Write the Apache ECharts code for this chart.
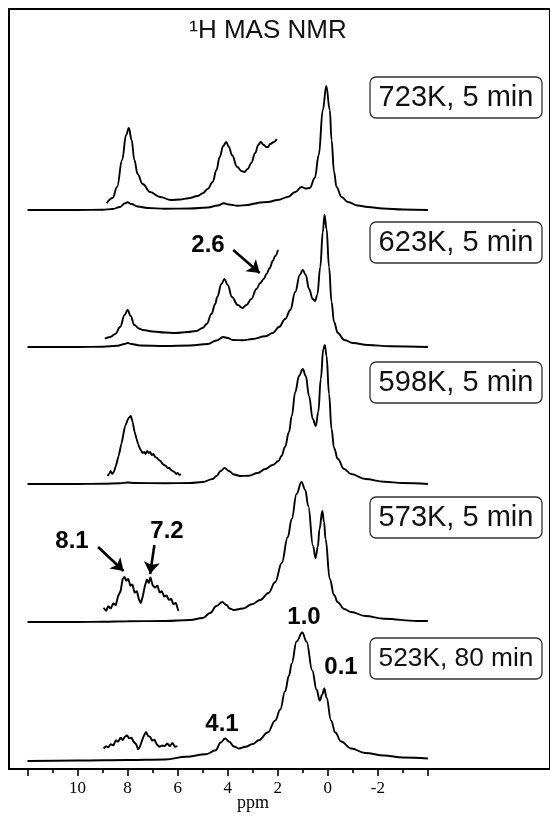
<!DOCTYPE html>
<html>
<head>
<meta charset="utf-8">
<script src="https://cdn.jsdelivr.net/npm/echarts@6/dist/echarts.min.js"></script>
<style>
  html, body { margin: 0; padding: 0; background: #fff; }
  #nmr-chart { width: 550px; height: 820px; }
</style>
</head>
<body>
<div id="nmr-chart"></div>
<script>
// tick values on the ppm axis
const majorTicks = [12, 10, 8, 6, 4, 2, 0, -2, -4];
const tickLabels = [10, 8, 6, 4, 2, 0, -2];
const minorTicks = [11, 9, 7, 5, 3, 1, -1, -3];

const sampleLabels = ['723K, 5 min', '623K, 5 min', '598K, 5 min', '573K, 5 min', '523K, 80 min'];

// [ppm, intensity]
const spec723 = [[12,0],[10,0],[9,0.3],[8.6,1],[8.3,3],[8.12,6.5],[8.0,7.7],[7.85,6],[7.6,3.5],[7.2,2],[6.5,1.3],[5.5,1.5],[4.8,2.5],[4.4,4.5],[4.15,6.7],[3.95,5.5],[3.6,4.3],[3.2,5],[2.9,6.5],[2.72,7.5],[2.4,8],[2.0,10],[1.6,13],[1.3,18],[1.05,23],[0.88,21.5],[0.72,22],[0.52,32],[0.36,55],[0.2,100],[0.06,124],[-0.08,100],[-0.15,70],[-0.25,38],[-0.35,23],[-0.55,13],[-0.8,8],[-1.2,4.5],[-1.6,3],[-2.2,1.5],[-3,0.5],[-4,0]];
const inset723 = [[8.84,6.7],[8.6,12],[8.42,23],[8.22,50],[8.06,75],[7.95,82],[7.84,70],[7.73,50],[7.6,36],[7.4,26],[7.1,18],[6.7,13],[6.27,10],[5.9,10.5],[5.57,11.7],[5.2,14],[5.0,16.7],[4.8,21],[4.6,28],[4.45,40],[4.32,53],[4.18,64],[4.06,68],[3.95,63],[3.83,55],[3.62,43],[3.45,39],[3.34,38],[3.2,41],[3.06,47],[2.9,57],[2.78,65],[2.68,68],[2.56,65],[2.46,63],[2.39,63],[2.3,66],[2.15,68],[2.04,71]];

const spec623 = [[12,0],[10,0],[9,0.3],[8.4,1.2],[8.12,3],[8.0,4],[7.85,3],[7.5,1.5],[6.5,1],[5.5,1.5],[4.8,3],[4.45,6.5],[4.18,10],[4.0,9],[3.8,7],[3.4,6.7],[3.0,8],[2.5,10.7],[2.2,14],[1.95,20],[1.7,28],[1.5,37],[1.3,55],[1.12,72],[1.0,77],[0.88,72],[0.75,58],[0.6,48],[0.51,46],[0.42,52],[0.3,80],[0.2,115],[0.13,132],[0.05,118],[-0.05,80],[-0.15,45],[-0.25,25],[-0.4,14],[-0.66,7],[-1.0,4],[-1.6,2],[-2.5,0.7],[-4,0]];
const inset623 = [[8.91,8.3],[8.7,10],[8.49,13],[8.3,20],[8.12,32],[8.0,37],[7.88,31],[7.73,22],[7.55,18.5],[7.38,17],[7.0,15.5],[6.5,14.5],[6.09,14],[5.6,15],[5.26,16],[5.0,19],[4.84,23],[4.65,33],[4.5,43],[4.42,50],[4.25,63],[4.13,68],[4.0,62],[3.83,50],[3.6,42],[3.41,39],[3.25,42],[3.06,48],[2.85,58],[2.7,64],[2.56,68],[2.45,73],[2.32,79],[2.2,86],[2.1,91],[1.99,97]];

const spec598 = [[12,0],[10,0],[9,0.3],[8.3,0.8],[8.0,1.5],[7.7,1],[6.5,0.7],[5.5,1],[5.0,2],[4.6,5],[4.45,8],[4.28,13],[4.12,16],[3.95,13],[3.75,9.5],[3.5,8],[3.16,8.3],[2.8,11],[2.5,15],[2.2,19],[1.97,23],[1.85,28],[1.71,37],[1.55,52],[1.44,68],[1.3,92],[1.15,108],[1.0,115],[0.88,108],[0.75,88],[0.6,65],[0.48,58],[0.38,72],[0.28,105],[0.18,135],[0.12,139],[0.05,128],[-0.05,90],[-0.15,55],[-0.25,36],[-0.4,25],[-0.65,15],[-0.93,10],[-1.5,5],[-2.25,2.3],[-3,1],[-4,0]];
const inset598 = [[8.8,8],[8.74,10],[8.68,13],[8.62,10],[8.55,12],[8.47,18],[8.36,28],[8.25,40],[8.1,58],[7.96,66],[7.87,68],[7.8,62],[7.72,52],[7.64,45],[7.58,40],[7.52,36],[7.45,33],[7.4,31],[7.33,32],[7.28,30],[7.22,33],[7.16,31],[7.1,32],[7.03,29],[6.97,30],[6.9,27],[6.82,26],[6.75,24],[6.68,23],[6.6,20],[6.54,19],[6.47,18],[6.4,16],[6.33,16],[6.27,14],[6.2,13],[6.13,12],[6.06,10],[6.0,11],[5.93,9],[5.87,10]];

const spec573 = [[12,0],[10,0],[9,0.3],[8.0,0.8],[6.5,1],[5.5,2],[5.0,4],[4.7,9],[4.45,16],[4.22,20],[4.05,17],[3.92,13.5],[3.75,12],[3.4,13.5],[3.03,17.7],[2.7,22],[2.37,29],[2.1,40],[1.84,59],[1.6,85],[1.44,103],[1.25,128],[1.05,140],[0.9,132],[0.78,116],[0.59,76],[0.49,64],[0.4,75],[0.33,93],[0.22,111],[0.15,100],[0.09,83],[-0.08,43],[-0.25,27],[-0.4,19.7],[-0.65,13],[-0.93,10],[-1.5,6],[-2.25,3.3],[-3.57,1],[-4,1]];
const inset573 = [[8.96,14.3],[8.86,11],[8.77,16],[8.68,13.3],[8.57,18.7],[8.47,16.7],[8.38,26],[8.28,31],[8.2,42.7],[8.13,45.3],[8.05,41],[7.97,43.3],[7.89,36],[7.81,37.7],[7.72,29.3],[7.63,31],[7.55,22.7],[7.47,18.7],[7.39,26],[7.31,36],[7.23,42.7],[7.15,38.7],[7.09,45],[7.0,36.7],[6.9,34.3],[6.81,36.7],[6.72,29.3],[6.63,31],[6.54,25.3],[6.44,26.7],[6.35,22],[6.26,23.3],[6.17,17.7],[6.07,19.3],[5.97,11]];

const spec523 = [[12,-1.5],[10,-1],[8,-0.5],[6.5,0],[5.66,2.7],[4.87,5.3],[4.48,9.3],[4.28,17],[4.1,21],[3.95,18],[3.75,13],[3.55,11],[3.29,12.7],[3.0,15.5],[2.76,19.3],[2.4,27],[2.1,39],[1.9,50],[1.71,68],[1.55,84],[1.44,96],[1.25,118],[1.02,127],[0.85,118],[0.62,89],[0.45,70],[0.32,59],[0.22,65],[0.14,71],[0.05,62],[-0.13,39],[-0.3,27],[-0.53,18],[-0.93,11],[-1.5,6.5],[-2.25,4],[-3,2],[-4,1]];
const inset523 = [[8.96,11],[8.86,13.3],[8.77,12],[8.68,15.3],[8.57,14],[8.47,19.3],[8.38,17.7],[8.28,22],[8.2,19.3],[8.11,22.7],[8.02,24.3],[7.94,21],[7.85,22],[7.76,17.7],[7.66,15.3],[7.58,10],[7.5,13.3],[7.42,19.3],[7.34,24.3],[7.26,27.7],[7.18,23.3],[7.1,22.7],[7.02,18.7],[6.93,20],[6.84,15.3],[6.73,12.7],[6.63,14],[6.52,13.3],[6.42,16],[6.31,13.3],[6.21,16.7],[6.11,12.7],[6.01,13.3]];

// layout: baseline of each trace (y axis runs 0..760 from the frame bottom)
const baselines = [559, 422, 285, 147, 9.5];
const labelBoxY = [77, 222, 362, 497, 638];

const nmrChart = echarts.init(document.getElementById('nmr-chart'));

function lift(points, offset) {
  return points.map(p => [p[0], p[1] + offset]);
}

function trace(name, points, offset, smooth, markLine) {
  const s = {
    name: name,
    type: 'line',
    data: lift(points, offset),
    symbol: 'none',
    smooth: smooth,
    smoothMonotone: 'x',
    silent: true,
    lineStyle: { color: '#000', width: 1.9 }
  };
  if (markLine) s.markLine = markLine;
  return s;
}

function arrows(list) {
  return {
    silent: true,
    symbol: ['none', 'arrow'],
    symbolSize: 12,
    label: { show: false },
    lineStyle: { color: '#000', width: 2.6, type: 'solid' },
    data: list.map(a => [{ coord: a[0] }, { coord: a[1] }])
  };
}

// the sample labels all fill the same box width
const measureCtx = document.createElement('canvas').getContext('2d');
measureCtx.font = '100px "Liberation Sans", Arial, sans-serif';
function fitSize(text, width, maxSize) {
  return Math.min(maxSize, 100 * width / measureCtx.measureText(text).width);
}

const boldLabel = (text, x, y) => ({
  type: 'text', x: x, y: y, silent: true,
  style: { text: text, font: 'bold 24px "Liberation Sans", Arial, sans-serif', fill: '#000', align: 'center', verticalAlign: 'middle' }
});

const graphics = [
  {
    type: 'text', x: 268, y: 31, silent: true,
    style: { text: '¹H MAS NMR', font: '26px "Liberation Sans", Arial, sans-serif', fill: '#111', align: 'center', verticalAlign: 'middle' }
  },
  {
    type: 'text', x: 253, y: 803, silent: true,
    style: { text: 'ppm', font: '18px "Liberation Serif", "Times New Roman", serif', fill: '#000', align: 'center', verticalAlign: 'middle' }
  },
  boldLabel('2.6', 208, 245),
  boldLabel('8.1', 72, 541),
  boldLabel('7.2', 167, 531),
  boldLabel('1.0', 304, 617),
  boldLabel('0.1', 341, 667),
  boldLabel('4.1', 222, 724)
];

sampleLabels.forEach((label, i) => {
  graphics.push({
    type: 'rect', silent: true,
    shape: { x: 370, y: labelBoxY[i], width: 172, height: 41, r: 6 },
    style: { fill: '#fff', stroke: '#333', lineWidth: 1.3 }
  });
  const size = fitSize(label, 155, 29);
  graphics.push({
    type: 'text', x: 456, y: labelBoxY[i] + 21, silent: true,
    style: { text: label, font: size.toFixed(1) + 'px "Liberation Sans", Arial, sans-serif', fill: '#111', align: 'center', verticalAlign: 'middle' }
  });
});

const option = {
  animation: false,
  grid: {
    left: 9, right: -2, top: 9, bottom: 51,
    show: true, borderColor: '#000', borderWidth: 2
  },
  xAxis: [
    {
      type: 'value', min: -8.88, max: 12.74, inverse: true, position: 'bottom',
      axisLine: { show: true, lineStyle: { color: '#000', width: 2 } },
      axisTick: { show: true, customValues: majorTicks, length: 7, lineStyle: { color: '#000', width: 1.6 } },
      axisLabel: { customValues: tickLabels, margin: 11, color: '#000', fontSize: 17, fontFamily: '"Liberation Serif", "Times New Roman", serif' },
      splitLine: { show: false }
    },
    {
      type: 'value', min: -8.88, max: 12.74, inverse: true, position: 'bottom',
      axisLine: { show: false },
      axisTick: { show: true, customValues: minorTicks, length: 4, lineStyle: { color: '#000', width: 1.6 } },
      axisLabel: { show: false },
      splitLine: { show: false }
    }
  ],
  yAxis: { type: 'value', min: 0, max: 760, show: false },
  series: [
    trace('723K', spec723, baselines[0], 0.4),
    trace('723K inset', inset723, baselines[0], 0.4),
    trace('623K', spec623, baselines[1], 0.4),
    trace('623K inset', inset623, baselines[1], 0.4,
      arrows([[[3.78, 519], [2.72, 496]]])),
    trace('598K', spec598, baselines[2], 0.4),
    trace('598K inset', inset598, baselines[2], 0.15),
    trace('573K', spec573, baselines[3], 0.4),
    trace('573K inset', inset573, baselines[3], false,
      arrows([[[9.18, 222], [8.16, 198]], [[6.93, 224], [7.1, 195]]])),
    trace('523K', spec523, baselines[4], 0.4),
    trace('523K inset', inset523, baselines[4], false)
  ],
  graphic: graphics
};

nmrChart.setOption(option);
</script>
</body>
</html>
